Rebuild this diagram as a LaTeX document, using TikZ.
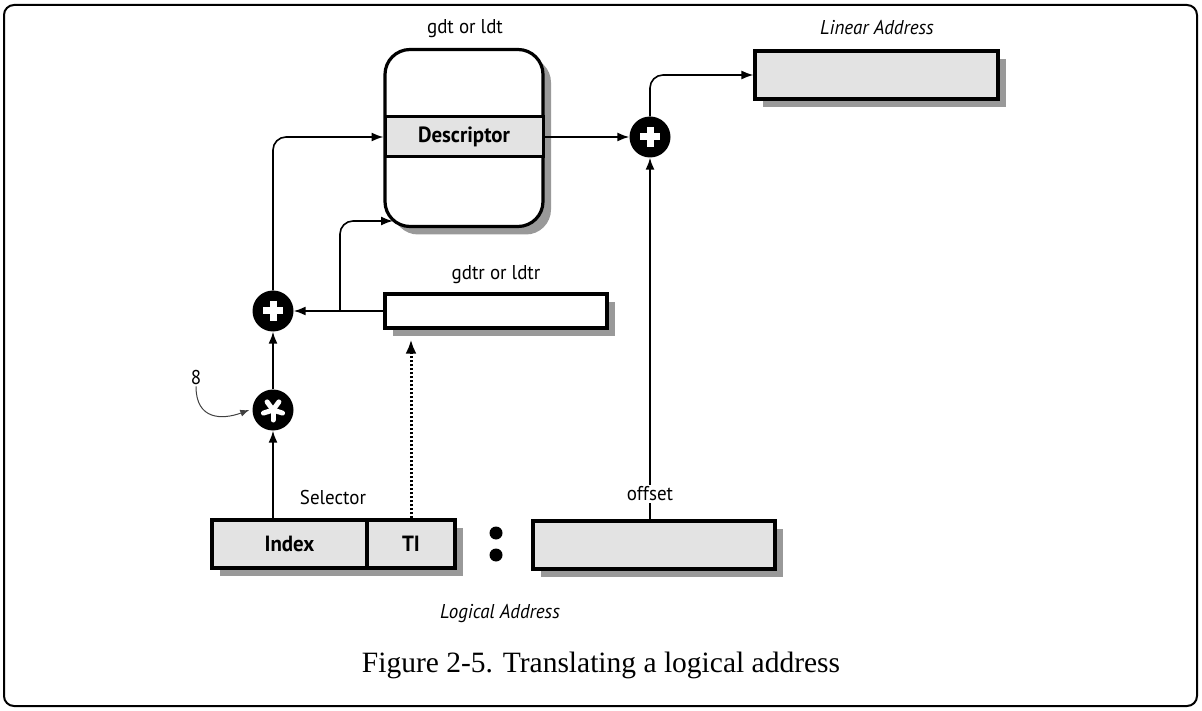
\documentclass[tikz,border=0pt]{standalone}
\usepackage{fontspec}
\usetikzlibrary{arrows.meta,shadows,calc}
\newfontfamily\df[FakeStretch=0.95]{PT Sans}
\newfontfamily\capfont{Liberation Serif}
\begin{document}
\begin{tikzpicture}[x=1pt,y=-1pt,
  lbl/.style={font=\df\fontsize{20}{23}\selectfont, inner sep=2pt},
  ilbl/.style={font=\df\itshape\fontsize{20}{23}\selectfont, inner sep=2pt},
  blbl/.style={font=\df\bfseries\fontsize{22}{25}\selectfont},
  shad/.style={drop shadow={shadow xshift=8pt, shadow yshift=-8pt, fill=black!40, opacity=1}},
  regbox/.style={draw, line width=3.2pt, shad, inner sep=0pt},
  arr/.style={line width=1.6pt, -{Latex[length=12pt,width=9pt]}},
  op/.style={circle, fill=black, minimum size=41pt, inner sep=0pt},
  plusop/.style={op, path picture={\draw[white, line width=7pt]
      ($(path picture bounding box.center)+(-10,0)$) -- ++(20,0)
      ($(path picture bounding box.center)+(0,-10)$) -- ++(0,20);}},
  starop/.style={op, path picture={\foreach \a in {90,162,234,306,18}
      \draw[white, line width=5pt, line cap=round]
      (path picture bounding box.center) -- ++(\a:10);}},
  dotb/.style={circle, fill=black, minimum size=13pt, inner sep=0pt}
]
\useasboundingbox (0,0) rectangle (1202,711);
% outer frame
\draw[line width=2pt, rounded corners=10pt] (4,5) rectangle (1197,706);

% gdt / ldt table
\node[regbox, fill=white, rounded corners=25pt, minimum width=158pt, minimum height=177pt] (gdt) at (464,138) {};
\node[draw, line width=3pt, fill=black!11, minimum width=158pt, minimum height=40pt, blbl] (desc) at (464,137) {Descriptor};
\node[lbl] (gdtl) at (465,29) {gdt or ldt};

% linear address
\node[regbox, fill=black!11, minimum width=243pt, minimum height=48pt] (lin) at (876.5,75) {};
\node[ilbl] (linl) at (877,28) {Linear Address};

% gdtr
\node[regbox, fill=white, minimum width=222pt, minimum height=34pt] (gdtr) at (496,311) {};
\node[lbl] (gdtrl) at (496,275) {gdtr or ldtr};

% selector
\node[regbox, fill=black!11, minimum width=155pt, minimum height=48pt, blbl] (index) at (289.5,544) {Index};
\node[regbox, fill=black!11, minimum width=88pt, minimum height=48pt, blbl] (ti) at (411,544) {TI};
\node[lbl] (sel) at (333,497) {Selector};

% colon
\node[dotb] (c1) at (496,533) {};
\node[dotb] (c2) at (496,555) {};

% offset
\node[regbox, fill=black!11, minimum width=242pt, minimum height=48pt] (off) at (654,545) {};
\node[lbl] (offl) at (650,494) {offset};

\node[ilbl] (logl) at (500,614) {Logical Address};

% operators
\node[plusop] (p1) at (273,311) {};
\node[starop] (st) at (273,410) {};
\node[plusop] (p2) at (650,137) {};
\node[lbl] (eight) at (196,377) {8};

% connectors
\draw[arr] (st |- index.north) -- (st.south);
\draw[arr] (st.north) -- (p1.south);
\draw[arr, rounded corners=13pt] (p1.north) |- (desc.west);
\draw[arr] (gdtr.west) -- (p1.east);
\coordinate (j) at (340,311);
\coordinate (gc) at (393,221);
\draw[arr, rounded corners=13pt] (j) |- (gc);
\draw[line width=3pt, dash pattern=on 2pt off 2pt, -{Latex[length=14pt,width=11pt]}]
   (ti.north) -- ([yshift=-10pt]ti.north |- gdtr.south);
\draw[line width=1pt, black!75, -{Latex[length=9pt,width=7pt]}]
   (eight.south) .. controls (196,420) and (222,420) .. ([xshift=-3pt]st.west);
\draw[arr] (desc.east) -- (p2.west);
\draw[line width=1.6pt] (off.north -| p2) -- (offl.south -| p2);
\draw[arr] (offl.north -| p2) -- (p2.south);
\draw[arr, rounded corners=13pt] (p2.north) |- (lin.west);

% caption
\node[font=\capfont\fontsize{29.5}{32}\selectfont] (cap) at (601,665) {Figure 2-5. Translating a logical address};
\end{tikzpicture}
\end{document}
